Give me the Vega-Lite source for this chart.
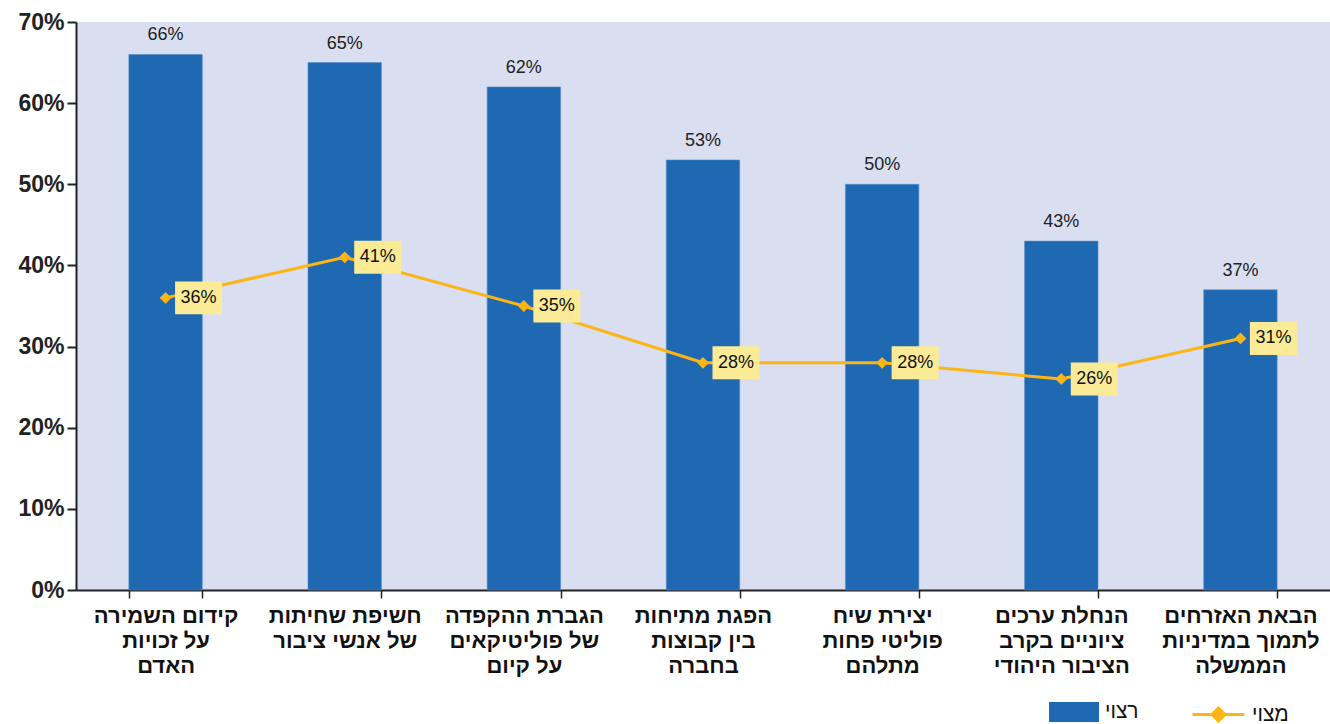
{
  "$schema": "https://vega.github.io/schema/vega-lite/v6.json",
  "autosize": {"type": "none"},
  "padding": {"left": 76, "top": 22, "right": 0, "bottom": 134},
  "width": 1254,
  "height": 568,
  "background": "#ffffff",
  "view": {"fill": "#d9dff0", "stroke": null},
  "config": {
    "font": "Liberation Sans",
    "legend": {"padding": 0, "labelFont": "Liberation Sans", "labelFontSize": 21, "labelColor": "#111111", "labelOffset": 6}
  },
  "data": {
    "values": [
      {"topic": "קידום השמירה|על זכויות|האדם", "desired": 0.66, "actual": 0.36},
      {"topic": "חשיפת שחיתות|של אנשי  ציבור", "desired": 0.65, "actual": 0.41},
      {"topic": "הגברת ההקפדה|של פוליטיקאים|על קיום", "desired": 0.62, "actual": 0.35},
      {"topic": "הפגת מתיחות|בין קבוצות|בחברה", "desired": 0.53, "actual": 0.28},
      {"topic": "יצירת שיח|פוליטי פחות|מתלהם", "desired": 0.50, "actual": 0.28},
      {"topic": "הנחלת ערכים|ציוניים בקרב|הציבור היהודי", "desired": 0.43, "actual": 0.26},
      {"topic": "הבאת האזרחים|לתמוך במדיניות|הממשלה", "desired": 0.37, "actual": 0.31}
    ]
  },
  "encoding": {
    "x": {
      "field": "topic",
      "type": "nominal",
      "sort": null,
      "scale": {"paddingInner": 0.59, "paddingOuter": 0.295},
      "axis": {
        "title": null,
        "labelAngle": 0,
        "labelExpr": "split(datum.label, '|')",
        "labelFont": "Liberation Sans",
        "labelFontWeight": "bold",
        "labelFontSize": 22,
        "labelLineHeight": 25,
        "labelColor": "#111111",
        "labelPadding": 7,
        "tickBand": "extent",
        "tickSize": 8,
        "tickColor": "#222222",
        "tickWidth": 1.5,
        "domainColor": "#222222",
        "domainWidth": 2
      }
    }
  },
  "layer": [
    {
      "mark": {"type": "bar", "stroke": "#5b8fd0", "strokeWidth": 0.6},
      "encoding": {
        "y": {
          "field": "desired",
          "type": "quantitative",
          "scale": {"domain": [0, 0.7]},
          "axis": {
            "title": null,
            "values": [0, 0.1, 0.2, 0.3, 0.4, 0.5, 0.6, 0.7],
            "format": ".0%",
            "labelFont": "Liberation Sans",
            "labelFontWeight": "bold",
            "labelFontSize": 23,
            "labelColor": "#222222",
            "labelPadding": 3,
            "grid": false,
            "tickSize": 9,
            "tickColor": "#222222",
            "tickWidth": 2,
            "domainColor": "#222222",
            "domainWidth": 2
          }
        },
        "fill": {
          "datum": "רצוי",
          "scale": {"range": ["#1f69b2"]},
          "legend": {
            "title": null,
            "orient": "none",
            "legendX": 973,
            "legendY": 665,
            "symbolType": "M-1,-0.4H1V0.4H-1Z",
            "symbolSize": 2500,
            "symbolStrokeWidth": 0
          }
        }
      }
    },
    {
      "mark": {"type": "text", "dy": -10, "baseline": "bottom", "fontSize": 18, "color": "#222222"},
      "encoding": {
        "y": {"field": "desired", "type": "quantitative"},
        "text": {"field": "desired", "type": "quantitative", "format": ".0%"}
      }
    },
    {
      "mark": {"type": "line", "strokeWidth": 3},
      "encoding": {
        "y": {"field": "actual", "type": "quantitative"},
        "stroke": {
          "datum": "מצוי",
          "scale": {"range": ["#fcb514"]},
          "legend": {
            "title": null,
            "orient": "none",
            "legendX": 1115,
            "legendY": 665,
            "symbolType": "M-1,0H1M0,-0.25L0.25,0L0,0.25L-0.25,0Z",
            "symbolSize": 2704,
            "symbolStrokeWidth": 3,
            "encode": {"symbols": {"update": {"fill": {"value": "#fcb514"}}}}
          }
        }
      }
    },
    {
      "mark": {"type": "point", "shape": "diamond", "filled": true, "size": 140, "color": "#fcb514", "opacity": 1},
      "encoding": {
        "y": {"field": "actual", "type": "quantitative"}
      }
    },
    {
      "mark": {"type": "point", "shape": "M-1,-0.7H1V0.7H-1Z", "filled": true, "size": 2209, "color": "#fbeb96", "opacity": 1, "xOffset": 33},
      "encoding": {
        "y": {"field": "actual", "type": "quantitative"}
      }
    },
    {
      "mark": {"type": "text", "fontSize": 18, "color": "#111111", "xOffset": 33, "baseline": "middle"},
      "encoding": {
        "y": {"field": "actual", "type": "quantitative"},
        "text": {"field": "actual", "type": "quantitative", "format": ".0%"}
      }
    }
  ]
}
